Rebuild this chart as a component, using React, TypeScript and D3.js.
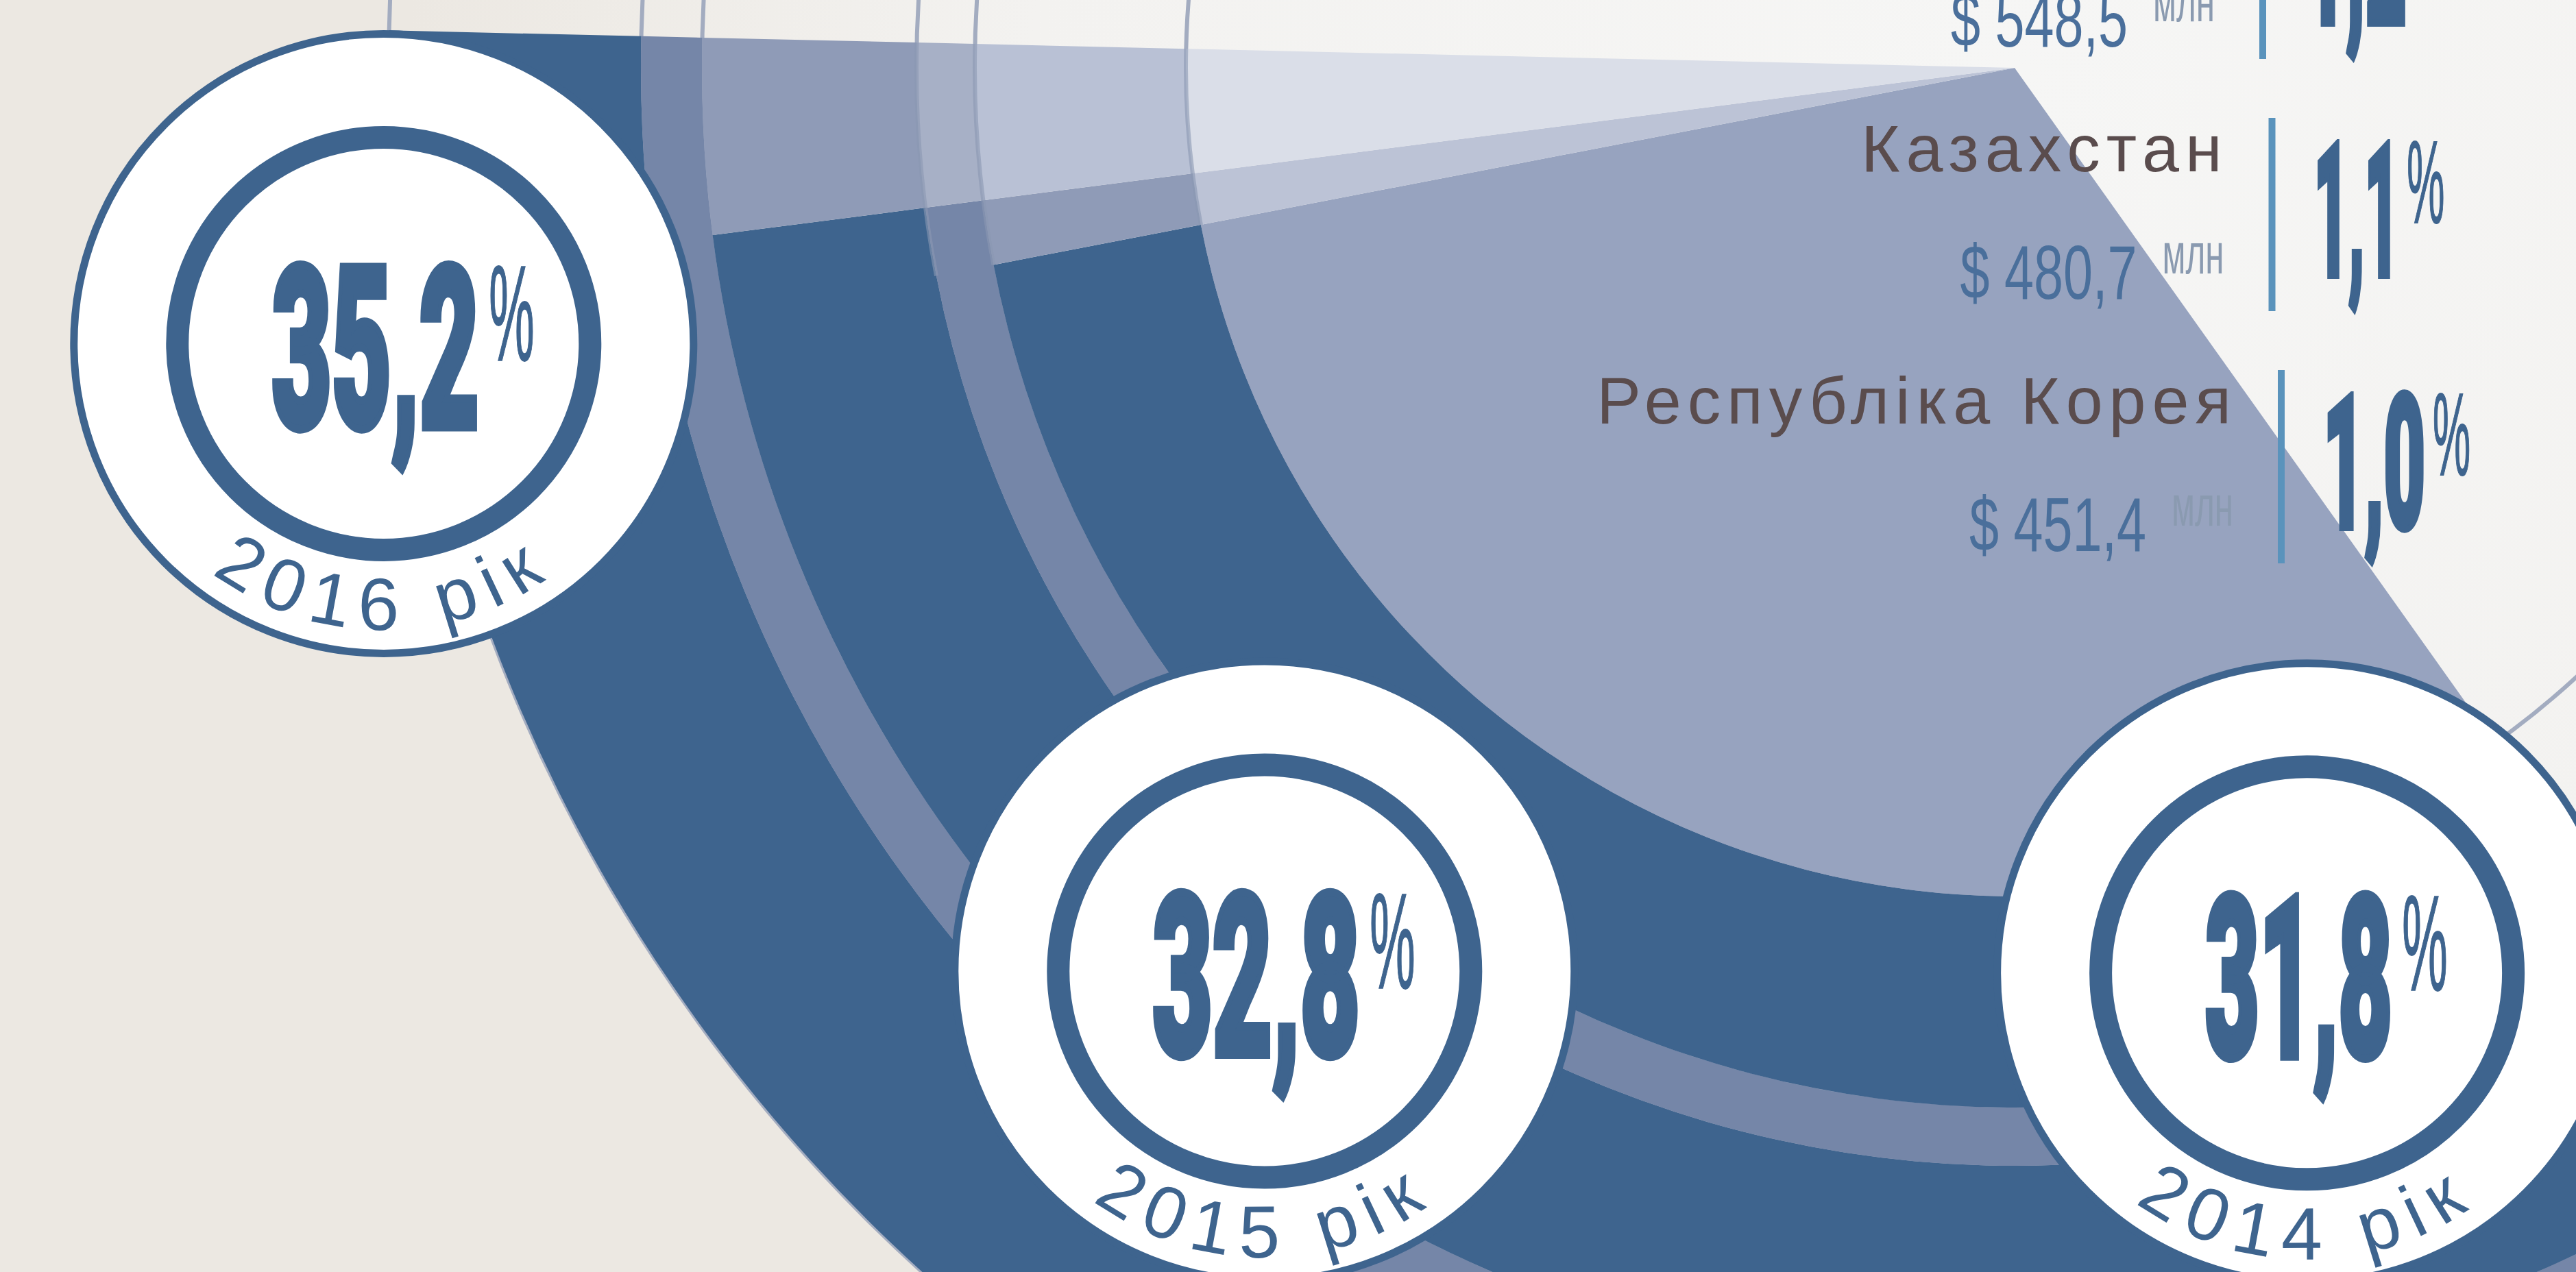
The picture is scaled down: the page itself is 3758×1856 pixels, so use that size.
import React from 'react';
import * as d3 from 'd3';

// share per year, outer ring -> inner ring
const years = ['2016', '2015', '2014'];
const yearShares = [35.2, 32.8, 31.8];
const yearLabels = ['35,2', '32,8', '31,8'];

// list on the right (first row is cut by the top edge)
const countryNames = ['', 'Казахстан', 'Республіка Корея'];
const countryValues = ['548,5', '480,7', '451,4'];
const countryShares = ['1,2', '1,1', '1,0'];

const W = 3758;
const H = 1856;
const center = { x: 2939, y: 99 };

const DARK = '#3e648e';
const ringFill = ['#3e648e', '#8f9bb7', '#b9c1d5'];
const stripeFill = ['#7586a8', '#a7b0c6', '#cad0df'];
const diskFill = ['#97a3bf', '#bcc3d6', '#dadee8'];

// [inner, stripe edge, outer] for each year ring
const ringBands = [
  [1915, 2004, 2372],
  [1517, 1602, 1915],
  [1209, 1209, 1517],
];
const diskRadius = 1209;
const outlineRadii = [1209, 1517, 1602, 1915, 2004, 2372];

// where the year badges sit: [screen degrees, distance from centre]
const badgePolar = [
  [170.4, 2413],
  [129.7, 1713],
  [72.1, 1388],
];

const rad = (d: number) => (d * Math.PI) / 180;
const startA = rad(144.6);
const angle = d3.scaleLinear().domain([0, 100]).range([startA, startA + 2 * Math.PI]);
const arc = d3.arc<any>();

// narrow heavy digits, widths relative to digit height
const condensedWidth = (s: string, h: number) =>
  d3.sum(s.split(''), (c) => (c === '1' ? 0.26 : c === ',' ? 0.14 : 0.38)) * h;

const rowY = d3.scaleLinear().domain([0, 1]).range([68, 436]);
const rowX = d3.scaleLinear().domain([0, 1]).range([3301, 3314.5]);

function sliceBounds(i: number) {
  const b = [0, ...yearShares.slice(0, i + 1).reverse()];
  return d3.pairs(b);
}

// heavy condensed number: squeezed bold glyphs, thickened a little with a stroke
function HeavyNumber({ x, y, h, text, anchor }: { x: number; y: number; h: number; text: string; anchor: string }) {
  const sw = 0.05 * h;
  return (
    <text
      x={x + (anchor === 'start' ? sw / 2 : 0)}
      y={y - sw / 2}
      textAnchor={anchor}
      fontFamily="Roboto, 'Liberation Sans', sans-serif"
      fontWeight={900}
      fontSize={(h - sw) / 0.711}
      textLength={condensedWidth(text, h) - sw}
      lengthAdjust="spacingAndGlyphs"
      fill={DARK}
      stroke={DARK}
      strokeWidth={sw}
      strokeLinejoin="miter"
    >
      {text}
    </text>
  );
}

function Badge({ x, y, label, year }: { x: number; y: number; label: string; year: string }) {
  const h = 246;
  const dw = condensedWidth(label, h);
  const base = 5 + h / 2;
  const r = 418;
  return (
    <g transform={`translate(${x},${y})`}>
      <circle r={452} fill="#fff" stroke={DARK} strokeWidth={11} />
      <circle r={301} fill="none" stroke={DARK} strokeWidth={33} />
      <HeavyNumber x={-12} y={base} h={h} text={label} anchor="middle" />
      <text
        x={-12 + dw / 2 + 8}
        y={base - h + 0.58 * h}
        fontFamily="'Liberation Sans', sans-serif"
        fontSize={(0.58 * h) / 0.72}
        textLength={0.27 * h}
        lengthAdjust="spacingAndGlyphs"
        fill={DARK}
        stroke={DARK}
        strokeWidth={2}
      >
        %
      </text>
      <path id={`yr-${year}`} d={`M${-r},0 A${r},${r} 0 0 0 ${r},0`} fill="none" />
      <text fontFamily="'Liberation Sans', sans-serif" fontSize={108} letterSpacing={17} fill={DARK}>
        <textPath href={`#yr-${year}`} startOffset="50%" textAnchor="middle">
          {`${year} рік`}
        </textPath>
      </text>
    </g>
  );
}

export default function App() {
  return (
    <svg
      width={W}
      height={H}
      viewBox={`0 0 ${W} ${H}`}
      style={{ position: 'fixed', left: 0, top: 0, display: 'block' }}
    >
      <defs>
        <radialGradient id="bg" gradientUnits="userSpaceOnUse" cx={center.x} cy={center.y} r={2600}>
          <stop offset="0" stopColor="#f6f6f5" />
          <stop offset="0.55" stopColor="#f3f2f0" />
          <stop offset="0.8" stopColor="#eeebe6" />
          <stop offset="0.9" stopColor="#ece8e2" />
          <stop offset="1" stopColor="#ece8e2" />
        </radialGradient>
      </defs>
      <rect width={W} height={H} fill="url(#bg)" />

      <g transform={`translate(${center.x},${center.y})`}>
        {/* ring outlines, seen outside the slices */}
        {outlineRadii.map((r) => (
          <circle key={r} r={r} fill="none" stroke="#a3acc0" strokeWidth={6} />
        ))}

        {/* year rings */}
        {ringBands.map(([r0, rs, r1], i) =>
          sliceBounds(i).map(([a, b], k) => (
            <g key={`${i}-${k}`}>
              <path
                d={arc({ innerRadius: rs, outerRadius: r1, startAngle: angle(a), endAngle: angle(b) })}
                fill={ringFill[k]}
              />
              {rs > r0 && (
                <path
                  d={arc({ innerRadius: r0, outerRadius: rs, startAngle: angle(a), endAngle: angle(b) })}
                  fill={stripeFill[k]}
                />
              )}
            </g>
          ))
        )}

        {/* inner disk repeats the inner ring, lighter */}
        {sliceBounds(2).map(([a, b], k) => (
          <path
            key={`d${k}`}
            d={arc({ innerRadius: 0, outerRadius: diskRadius, startAngle: angle(a), endAngle: angle(b) })}
            fill={diskFill[k]}
          />
        ))}

        {/* outlines over the pale wedges */}
        {[1209, 1517, 1602].map((r) => (
          <path
            key={`o${r}`}
            d={arc({
              innerRadius: r - 3,
              outerRadius: r + 3,
              startAngle: angle(yearShares[2]),
              endAngle: angle(yearShares[0]),
            })}
            fill="#8a97b3"
            opacity={0.6}
          />
        ))}
      </g>

      {/* country list */}
      {countryValues.map((v, i) => {
        const vb = rowY(i);
        const xb = rowX(i);
        const ph = 204;
        const pw = condensedWidth(countryShares[i], ph);
        const pb = vb - 29;
        return (
          <g key={v}>
            {countryNames[i] && (
              <text
                x={xb - 64}
                y={vb - 186}
                textAnchor="end"
                fontFamily="'Liberation Sans', sans-serif"
                fontSize={97}
                letterSpacing={9}
                fill="#5a4c4d"
              >
                {countryNames[i]}
              </text>
            )}
            <text
              x={xb - 197}
              y={vb}
              textAnchor="end"
              fontFamily="'Liberation Sans', sans-serif"
              fontSize={112}
              textLength={258}
              lengthAdjust="spacingAndGlyphs"
              fill="#4a6f9b"
            >
              {`$ ${v}`}
            </text>
            <text
              x={xb - 160}
              y={vb - 37}
              fontFamily="'Liberation Sans', sans-serif"
              fontSize={83}
              textLength={90}
              lengthAdjust="spacingAndGlyphs"
              fill="#8a9ab0"
            >
              млн
            </text>
            <rect x={xb - 5} y={vb - 264} width={10} height={282} fill="#5a93bc" />
            <HeavyNumber x={xb + 56} y={pb} h={ph} text={countryShares[i]} anchor="start" />
            <text
              x={xb + 56 + pw + 6}
              y={pb - ph + 0.6 * ph}
              fontFamily="'Liberation Sans', sans-serif"
              fontSize={(0.6 * ph) / 0.72}
              textLength={0.27 * ph}
              lengthAdjust="spacingAndGlyphs"
              fill={DARK}
              stroke={DARK}
              strokeWidth={2}
            >
              %
            </text>
          </g>
        );
      })}

      {/* year badges */}
      {years.map((y, i) => {
        const [deg, r] = badgePolar[i];
        return (
          <Badge
            key={y}
            x={center.x + r * Math.cos(rad(deg))}
            y={center.y + r * Math.sin(rad(deg))}
            label={yearLabels[i]}
            year={y}
          />
        );
      })}
    </svg>
  );
}
